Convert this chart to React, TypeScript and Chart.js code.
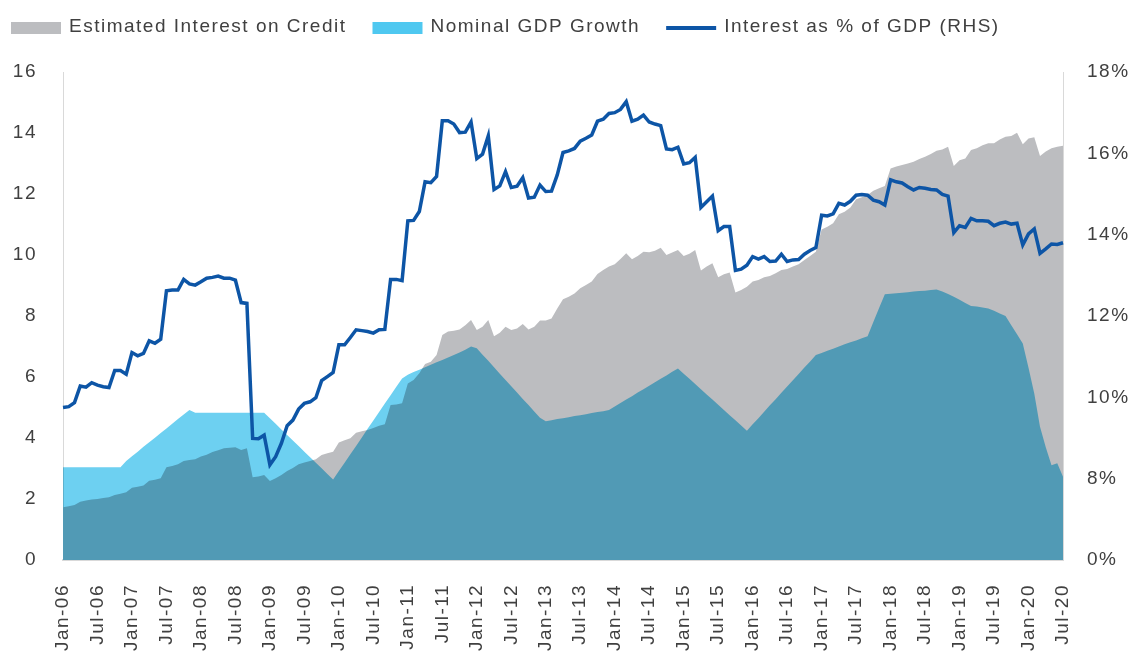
import React, { useEffect, useRef } from 'react';
import { Chart, registerables } from 'chart.js';

// ---------- data ----------
const MONTH_NAMES = ['Jan', 'Feb', 'Mar', 'Apr', 'May', 'Jun', 'Jul', 'Aug', 'Sep', 'Oct', 'Nov', 'Dec'];
const FIRST_YEAR = 2006;
const MONTH_COUNT = 175; // Jan-06 .. Jul-20
const TICK_EVERY = 6;

const categories: string[] = [];
for (let i = 0; i < MONTH_COUNT; i++) {
  const y = FIRST_YEAR + Math.floor(i / 12);
  categories.push(`${MONTH_NAMES[i % 12]}-${String(y % 100).padStart(2, '0')}`);
}

// Estimated interest on credit (LHS)
const interestOnCredit = [
  1.73, 1.76, 1.80, 1.91, 1.95, 1.98, 2.00, 2.03, 2.06, 2.13, 2.17, 2.22,
  2.37, 2.40, 2.44, 2.60, 2.63, 2.68, 3.04, 3.08, 3.14, 3.25, 3.28, 3.30,
  3.39, 3.45, 3.54, 3.60, 3.66, 3.68, 3.70, 3.61, 3.66, 2.71, 2.74, 2.79,
  2.59, 2.68, 2.79, 2.92, 3.02, 3.14, 3.20, 3.25, 3.30, 3.44, 3.50, 3.55,
  3.85, 3.93, 3.99, 4.17, 4.22, 4.26, 4.33, 4.40, 4.45, 5.08, 5.10, 5.14,
  5.79, 5.90, 6.12, 6.43, 6.50, 6.72, 7.38, 7.49, 7.52, 7.56, 7.70, 7.87,
  7.54, 7.65, 7.87, 7.34, 7.45, 7.65, 7.54, 7.59, 7.74, 7.56, 7.65, 7.85,
  7.85, 7.92, 8.25, 8.55, 8.63, 8.74, 8.91, 9.02, 9.13, 9.38, 9.51, 9.62,
  9.70, 9.87, 10.06, 9.86, 9.97, 10.11, 10.09, 10.14, 10.24, 10.00, 10.08, 10.16,
  9.97, 10.04, 10.16, 9.49, 9.62, 9.73, 9.27, 9.37, 9.43, 8.77, 8.85, 8.96,
  9.13, 9.18, 9.27, 9.31, 9.40, 9.51, 9.54, 9.62, 9.70, 9.84, 9.97, 10.11,
  10.84, 10.93, 11.04, 11.34, 11.42, 11.56, 11.83, 11.89, 11.97, 12.11, 12.19, 12.26,
  12.84, 12.90, 12.95, 13.00, 13.06, 13.15, 13.22, 13.31, 13.42, 13.46, 13.55, 12.92,
  13.11, 13.16, 13.44, 13.50, 13.60, 13.66, 13.66, 13.79, 13.88, 13.90, 14.01, 13.63,
  13.82, 13.86, 13.25, 13.39, 13.50, 13.55, 13.58,
];

// Nominal GDP growth (LHS)
const nominalGdpGrowth = [
  3.04, 3.04, 3.04, 3.04, 3.04, 3.04, 3.04, 3.04, 3.04, 3.04, 3.04, 3.25,
  3.40, 3.55, 3.71, 3.86, 4.01, 4.16, 4.31, 4.47, 4.62, 4.77, 4.92, 4.83,
  4.83, 4.83, 4.83, 4.83, 4.83, 4.83, 4.83, 4.83, 4.83, 4.83, 4.83, 4.83,
  4.65, 4.47, 4.28, 4.10, 3.92, 3.74, 3.55, 3.37, 3.19, 3.01, 2.82, 2.64,
  2.92, 3.19, 3.47, 3.74, 4.02, 4.30, 4.57, 4.85, 5.13, 5.40, 5.68, 5.95,
  6.07, 6.16, 6.24, 6.32, 6.40, 6.48, 6.56, 6.64, 6.72, 6.80, 6.89, 7.00,
  6.94, 6.73, 6.53, 6.32, 6.11, 5.90, 5.70, 5.49, 5.28, 5.08, 4.87, 4.66,
  4.55, 4.58, 4.62, 4.65, 4.68, 4.72, 4.75, 4.78, 4.82, 4.85, 4.88, 4.92,
  5.03, 5.15, 5.26, 5.37, 5.49, 5.60, 5.71, 5.83, 5.94, 6.05, 6.17, 6.28,
  6.11, 5.94, 5.77, 5.60, 5.43, 5.26, 5.09, 4.92, 4.75, 4.58, 4.41, 4.24,
  4.45, 4.65, 4.86, 5.07, 5.27, 5.48, 5.69, 5.89, 6.10, 6.31, 6.51, 6.72,
  6.79, 6.86, 6.93, 7.00, 7.07, 7.14, 7.20, 7.27, 7.34, 7.80, 8.26, 8.71,
  8.73, 8.75, 8.76, 8.78, 8.80, 8.82, 8.83, 8.85, 8.87, 8.80, 8.72, 8.63,
  8.53, 8.43, 8.33, 8.31, 8.28, 8.25, 8.17, 8.08, 8.00, 7.70, 7.40, 7.10,
  6.30, 5.46, 4.37, 3.70, 3.11, 3.17, 2.73,
];

// Interest as % of GDP (RHS)
const interestPctGdp = [
  9.75, 9.77, 9.87, 10.28, 10.25, 10.36, 10.30, 10.26, 10.24, 10.66, 10.66, 10.57,
  11.10, 11.02, 11.08, 11.39, 11.33, 11.43, 12.62, 12.64, 12.64, 12.90, 12.79, 12.76,
  12.84, 12.93, 12.95, 12.98, 12.93, 12.93, 12.88, 12.33, 12.31, 8.99, 8.98, 9.07,
  8.34, 8.54, 8.87, 9.30, 9.44, 9.71, 9.85, 9.89, 9.99, 10.41, 10.51, 10.61,
  11.29, 11.29, 11.47, 11.66, 11.64, 11.62, 11.58, 11.66, 11.67, 12.90, 12.90, 12.87,
  14.34, 14.35, 14.57, 15.30, 15.28, 15.43, 16.80, 16.80, 16.72, 16.51, 16.52, 16.77,
  15.87, 15.98, 16.43, 15.11, 15.20, 15.55, 15.16, 15.19, 15.40, 14.90, 14.92, 15.22,
  15.06, 15.07, 15.47, 16.02, 16.06, 16.12, 16.30, 16.37, 16.45, 16.79, 16.84, 16.98,
  17.00, 17.08, 17.27, 16.79, 16.84, 16.94, 16.77, 16.72, 16.68, 16.11, 16.09, 16.15,
  15.74, 15.77, 15.90, 14.67, 14.81, 14.95, 14.10, 14.20, 14.20, 13.12, 13.15, 13.25,
  13.46, 13.40, 13.46, 13.34, 13.35, 13.52, 13.34, 13.38, 13.39, 13.52, 13.61, 13.68,
  14.48, 14.46, 14.51, 14.77, 14.73, 14.82, 14.97, 14.99, 14.97, 14.85, 14.81, 14.73,
  15.35, 15.30, 15.27, 15.18, 15.10, 15.16, 15.14, 15.11, 15.10, 14.99, 14.95, 14.05,
  14.22, 14.18, 14.40, 14.34, 14.34, 14.33, 14.22, 14.28, 14.31, 14.26, 14.28, 13.75,
  14.02, 14.14, 13.54, 13.65, 13.77, 13.76, 13.80,
];

// Axis tick settings
const LEFT_MIN = 0;
const LEFT_MAX = 16;
const LEFT_STEP = 2;
const RIGHT_MIN = 6;
const RIGHT_MAX = 18;
const RIGHT_STEP = 2;
const RIGHT_BOTTOM_LABEL = '0%';

const SERIES_LABELS = ['Interest as % of GDP (RHS)', 'Nominal GDP Growth', 'Estimated Interest on Credit'];

// ---------- style ----------
const FONT = '"Liberation Sans", Arial, sans-serif';
const TEXT_COLOR = '#404040';
const LETTER_SPACING = '1.5px';
const FONT_SIZE = 19;
const GRAY = '#BCBDC0';
const BLUE_AREA = '#6DD0F1';
const BLUE_LEGEND = '#4FC8F0';
const LINE_BLUE = '#0D55A6';
const AXIS_LINE = '#D9D9D9';

// Blend plugin: registered before the built-ins so it wraps the filler
const blendPlugin = {
  id: 'areaBlend',
  beforeDatasetDraw(chart: any, args: any) {
    const ds = chart.data.datasets[args.index];
    if (ds && ds.blendMode) {
      chart.ctx.save();
      chart.ctx.globalCompositeOperation = ds.blendMode;
    }
  },
  afterDatasetDraw(chart: any, args: any) {
    const ds = chart.data.datasets[args.index];
    if (ds && ds.blendMode) chart.ctx.restore();
  },
  beforeDraw(chart: any) {
    const ctx: any = chart.ctx;
    if ('letterSpacing' in ctx) ctx.letterSpacing = LETTER_SPACING;
  },
};
Chart.register(blendPlugin);
Chart.register(...registerables);

const legendPlugin = {
  id: 'customLegend',
  afterDraw(chart: any, _args: any, opts: any) {
    const ctx: any = chart.ctx;
    ctx.save();
    if ('letterSpacing' in ctx) ctx.letterSpacing = LETTER_SPACING;
    ctx.font = `${opts.fontSize}px ${FONT}`;
    ctx.textAlign = 'left';
    ctx.textBaseline = 'middle';
    const items = chart.data.datasets.slice().reverse();
    let x = opts.x;
    const cy = opts.y;
    for (const ds of items) {
      if (ds.type === 'line' && !ds.fill) {
        ctx.strokeStyle = ds.borderColor;
        ctx.lineWidth = opts.lineWidth;
        ctx.beginPath();
        ctx.moveTo(x, cy);
        ctx.lineTo(x + opts.boxWidth, cy);
        ctx.stroke();
      } else {
        ctx.fillStyle = ds.legendColor || ds.backgroundColor;
        ctx.fillRect(x, cy - opts.boxHeight / 2, opts.boxWidth, opts.boxHeight);
      }
      x += opts.boxWidth + opts.textGap;
      ctx.fillStyle = TEXT_COLOR;
      ctx.fillText(ds.label, x, cy - 1);
      x += ctx.measureText(ds.label).width + opts.itemGap;
    }
    ctx.restore();
  },
};

export default function App() {
  const canvasRef = useRef<HTMLCanvasElement | null>(null);

  useEffect(() => {
    if (!canvasRef.current) return;
    const tickFont = { family: FONT, size: FONT_SIZE };
    const chart = new Chart(canvasRef.current, {
      type: 'line',
      data: {
        labels: categories,
        datasets: [
          {
            type: 'line',
            label: SERIES_LABELS[0],
            data: interestPctGdp,
            yAxisID: 'y1',
            borderColor: LINE_BLUE,
            borderWidth: 3.5,
            pointRadius: 0,
            tension: 0,
            fill: false,
            order: 0,
          } as any,
          {
            type: 'line',
            label: SERIES_LABELS[1],
            data: nominalGdpGrowth,
            yAxisID: 'y',
            backgroundColor: BLUE_AREA,
            legendColor: BLUE_LEGEND,
            blendMode: 'multiply',
            borderWidth: 0,
            pointRadius: 0,
            tension: 0,
            fill: 'origin',
            order: 1,
          } as any,
          {
            type: 'line',
            label: SERIES_LABELS[2],
            data: interestOnCredit,
            yAxisID: 'y',
            backgroundColor: GRAY,
            borderWidth: 0,
            pointRadius: 0,
            tension: 0,
            fill: 'origin',
            order: 2,
          } as any,
        ],
      },
      options: {
        responsive: false,
        animation: false,
        layout: { padding: { top: 72, left: 0, right: 0, bottom: 0 } },
        plugins: {
          legend: { display: false },
          tooltip: { enabled: false },
          customLegend: {
            x: 11,
            y: 28,
            boxWidth: 50,
            boxHeight: 12,
            lineWidth: 4,
            textGap: 8,
            itemGap: 26,
            fontSize: FONT_SIZE,
          },
        } as any,
        scales: {
          x: {
            type: 'category',
            offset: false,
            grid: { display: false, drawTicks: false, tickLength: 0 },
            border: { display: true, color: AXIS_LINE, width: 2 },
            ticks: {
              autoSkip: false,
              minRotation: 90,
              maxRotation: 90,
              padding: 24,
              color: TEXT_COLOR,
              font: tickFont,
              callback: (_v: any, i: number) => (i % TICK_EVERY === 0 ? categories[i] : ''),
            },
            afterFit: (s: any) => { s.height = 92; },
          },
          y: {
            position: 'left',
            min: LEFT_MIN,
            max: LEFT_MAX,
            grid: { display: false, drawTicks: false, tickLength: 0 },
            border: { display: true, color: AXIS_LINE, width: 1 },
            ticks: { stepSize: LEFT_STEP, padding: 26, color: TEXT_COLOR, font: tickFont },
            afterFit: (s: any) => { s.width = 63; },
          },
          y1: {
            position: 'right',
            min: RIGHT_MIN,
            max: RIGHT_MAX,
            grid: { display: false, drawTicks: false, tickLength: 0 },
            border: { display: true, color: AXIS_LINE, width: 1 },
            ticks: {
              stepSize: RIGHT_STEP,
              padding: 24,
              color: TEXT_COLOR,
              font: tickFont,
              callback: (v: any) => (Number(v) === RIGHT_MIN ? RIGHT_BOTTOM_LABEL : `${v}%`),
            },
            afterFit: (s: any) => { s.width = 72; },
          },
        },
      } as any,
      plugins: [legendPlugin],
    });
    return () => chart.destroy();
  }, []);

  return (
    <div style={{ position: 'fixed', left: 0, top: 0, width: 1135, height: 652, background: '#ffffff' }}>
      <canvas ref={canvasRef} width={1135} height={652} style={{ display: 'block' }} />
    </div>
  );
}
